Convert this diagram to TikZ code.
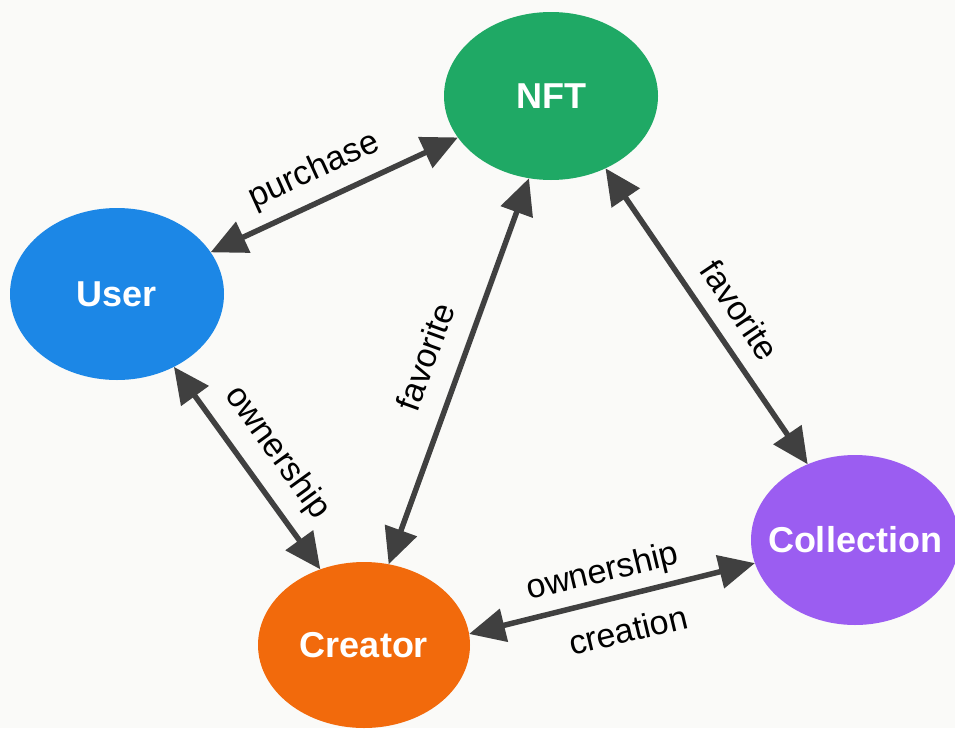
\documentclass[tikz,border=0pt]{standalone}
\usepackage{fontspec}
\setmainfont{Liberation Sans}
\usetikzlibrary{shapes.geometric,arrows.meta}
\definecolor{bgc}{HTML}{FAFAF8}
\definecolor{nftc}{HTML}{1FA965}
\definecolor{userc}{HTML}{1C87E6}
\definecolor{crec}{HTML}{F26A0C}
\definecolor{colc}{HTML}{9B5DF1}
\definecolor{linkc}{HTML}{404040}
\newcommand{\zw}[1]{\makebox[0pt]{#1}}
\tikzset{
  ent/.style={ellipse, inner sep=0pt, outer sep=0pt, text=white,
    font=\fontsize{36}{40}\selectfont\bfseries},
  link/.style={draw=linkc, line width=5.5pt,
    {Triangle[length=36pt,width=33pt]}-{Triangle[length=36pt,width=33pt]}},
  lab/.style={inner sep=0pt, text=black, font=\fontsize{34}{40}\selectfont}
}
\begin{document}
\begin{tikzpicture}[x=1pt,y=-1pt]
\fill[bgc] (0,0) rectangle (955,728);
\useasboundingbox (0,0) rectangle (955,728);
\node[ent, fill=nftc, minimum width=214pt, minimum height=168pt] (nft) at (551,96) {\zw{NFT}};
\node[ent, fill=userc, minimum width=214pt, minimum height=172pt] (user) at (117,294) {\zw{User}};
\node[ent, fill=crec, minimum width=212pt, minimum height=166pt] (cre) at (364,645) {\zw{Creator}};
\node[ent, fill=colc, minimum width=208pt, minimum height=170pt] (col) at (855,540) {\zw{Collection}};

\draw[link] (user.24.8) -- (nft.204.3);
\draw[link] (user.-52) -- (cre.120);
\draw[link] (nft.-105.5) -- (cre.73.5);
\draw[link] (nft.-53.9) -- (col.122.3);
\draw[link] (cre.6.7) -- (col.-167.5);

\node[lab, rotate=24.5] (lpur) at (314,171) {purchase};
\node[lab, rotate=-54] (lown1) at (277,453) {ownership};
\node[lab, rotate=70] (lfav1) at (425,357) {favorite};
\node[lab, rotate=-56] (lfav2) at (740,310) {favorite};
\node[lab, rotate=13.5] (lown2) at (603,573) {ownership};
\node[lab, rotate=13.5] (lcre) at (628,630) {creation};
\end{tikzpicture}
\end{document}
